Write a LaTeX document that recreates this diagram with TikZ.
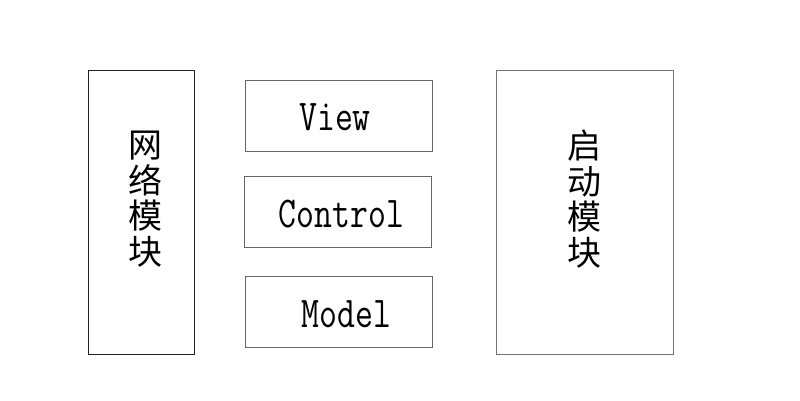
\documentclass[tikz,border=0pt]{standalone}
\usepackage{fontspec}
\newfontfamily\cjk{Noto Sans CJK SC}
\usepackage{graphicx}
\begin{document}
\begin{tikzpicture}[x=1bp,y=-1bp,
  box/.style={draw=#1,line width=1bp,inner sep=0pt,fill=white},
  cjktext/.style={inner sep=0pt,align=center,font=\cjk\fontsize{34bp}{35.5bp}\selectfont},
  eng/.style={inner sep=0pt,anchor=base,font=\ttfamily\fontsize{44bp}{48bp}\selectfont}]
\useasboundingbox[fill=white] (0,0) rectangle (800,400);
\node[box=black!87,minimum width=106bp,minimum height=284bp] (net) at (141.5,212.5) {};
\node[box=black!60,minimum width=187bp,minimum height=71bp] (view) at (338.5,115.5) {};
\node[box=black!60,minimum width=187bp,minimum height=71bp] (control) at (337.5,211.5) {};
\node[box=black!60,minimum width=187bp,minimum height=71bp] (model) at (338.5,311.5) {};
\node[box=black!55,minimum width=177bp,minimum height=284bp] (start) at (584.5,212.5) {};
\node[cjktext] (nettext) at (145,199) {网\\络\\模\\块};
\node[cjktext] (starttext) at (584,199) {启\\动\\模\\块};
\node[eng] (viewtext) at (335,130) {\scalebox{0.79}[1]{View}};
\node[eng] (controltext) at (341.5,227) {\scalebox{0.79}[1]{Control}};
\node[eng] (modeltext) at (346.5,327) {\scalebox{0.79}[1]{Model}};
\end{tikzpicture}
\end{document}
